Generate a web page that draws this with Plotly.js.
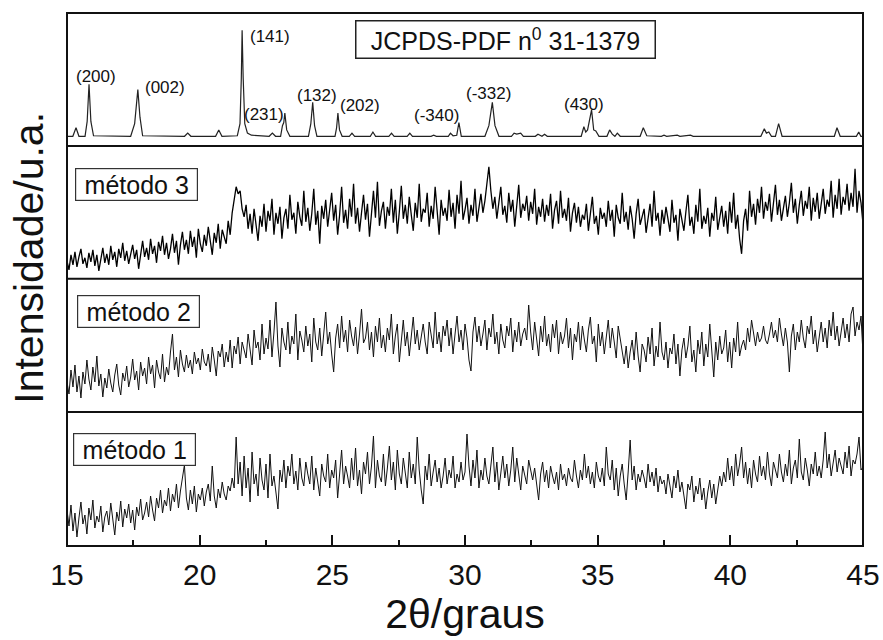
<!DOCTYPE html>
<html>
<head>
<meta charset="utf-8">
<script src="https://cdn.plot.ly/plotly-3.0.1.min.js"></script>
<style>html,body{margin:0;padding:0;background:#fff;}#chart{width:883px;height:640px;}</style>
</head>
<body>
<div id="chart"></div>
<script>
// ---------- DATA ----------
// Reference pattern JCPDS-PDF 31-1379 (vertices of the stick/profile line): 2θ and relative intensity
const refTwoTheta = [15.0,15.22,15.34,15.45,15.68,15.76,15.83,15.9,16.0,17.4,17.55,17.67,17.75,17.85,19.43,19.55,19.67,20.6,20.72,20.84,21.42,21.52,21.57,21.6,21.64,21.7,21.8,21.95,22.62,22.74,22.86,23.05,23.12,23.17,23.21,23.28,23.4,24.1,24.19,24.26,24.33,24.42,25.1,25.16,25.21,25.27,25.37,25.64,25.74,25.84,26.43,26.53,26.63,27.13,27.23,27.33,27.82,27.92,28.02,28.72,28.82,28.92,29.37,29.45,29.55,29.69,29.77,29.86,30.75,30.9,31.03,31.13,31.28,31.75,31.85,31.95,32.1,32.2,32.65,32.75,32.9,33.0,33.1,34.38,34.48,34.55,34.62,34.77,34.85,34.93,35.05,35.35,35.45,35.55,35.65,35.74,35.85,36.6,36.72,36.85,37.4,37.5,37.6,38.0,38.1,38.5,38.6,41.15,41.28,41.36,41.45,41.55,41.7,41.82,41.95,43.92,44.02,44.14,44.75,44.84,44.92,45.0];
const refIntensity = [0,0,8,0,0,14,49,14,0.5,0,12,44,18,0.5,0,3,0,0,6,0,0.5,12,55,100,55,12,3,1,0,3,0,0,10,13,22,6,0,0,12,32,10,0,0,8,22,6,0,0,3,0,0,4,0,0,3,0,0,3,0,0,1,0,0,3,0.5,1,13,0,0,10,32,10,0,0,3,2,3,0,0,2,0,2,0,0,9,4,6,25,6,5,0,0,6,2,0,3,0,0,8,0.5,0,1,0,1,0,1,0,0,7,3,4,0,0,12,0,0,8,0,0,4,0,0];

// Miller index labels of the reference pattern
const hklLabels = ['(200)','(002)','(141)','(231)','(132)','(202)','(-340)','(-332)','(430)'];
const hklTwoTheta = [16.1,18.7,22.66,22.41,24.42,26.04,28.94,30.9,34.47];
const hklLabelY = [56,46,94.6,20.1,38.7,29.2,19.8,39.9,30];

// Measured scans: uniform 2θ grid from 15° to 45°
const scanStart = 15;
const scanStep = 0.075;

const metodo3 = [
18,9,24,14,27,12,22,30,15,21,
11,26,17,29,13,24,8,22,31,16,
25,14,33,19,27,12,30,21,36,18,
28,15,24,34,20,29,10,26,38,22,
31,19,40,25,33,16,37,28,43,24,
36,20,30,45,26,38,14,34,47,29,
39,25,48,32,42,21,50,35,27,44,
33,52,38,24,46,36,55,30,49,41,
35,58,44,66,78,92,85,88,70,62,
74,50,65,45,70,56,38,63,52,75,
47,68,58,80,44,66,55,72,40,61,
70,50,84,59,66,45,77,62,53,88,
57,71,48,65,90,54,68,35,73,60,
79,52,67,86,58,74,44,64,92,56,
69,50,80,62,95,55,71,47,66,84,
59,75,42,70,88,61,97,53,68,77,
50,72,63,90,56,79,45,67,93,60,
74,55,82,64,48,76,61,95,57,70,
66,86,52,73,60,92,68,44,79,63,
71,58,89,62,76,50,84,65,98,59,
69,81,55,74,63,90,57,72,85,66,
78,95,112,88,70,82,60,76,92,64,
73,56,86,67,79,52,70,94,61,75,
68,83,58,77,65,90,54,72,62,80,
57,74,63,85,50,69,78,55,88,61,
70,58,81,47,66,76,56,72,52,64,
59,75,48,68,82,55,63,44,71,60,
66,52,78,58,69,42,74,61,55,86,
57,67,49,73,60,40,65,80,54,62,
70,46,61,75,52,88,58,66,43,69,
55,72,60,47,79,56,64,38,70,59,
48,67,84,53,62,45,74,57,90,50,
63,55,71,42,66,58,82,49,60,73,
52,68,45,77,56,86,50,64,40,25,
58,70,48,88,62,75,54,80,66,92,
60,77,68,85,57,73,94,64,79,58,
71,83,62,76,96,66,80,55,74,88,
63,78,70,92,58,81,67,86,60,75,
90,65,79,72,98,61,84,70,100,64,
82,74,95,68,86,72,110,66,88,76,
55];

const metodo2 = [
30,18,42,25,47,20,36,14,40,28,
52,33,22,45,30,56,26,38,15,34,
24,43,29,20,37,48,27,17,39,31,
46,25,35,53,32,41,22,50,36,44,
28,55,38,47,24,52,40,33,58,30,
45,37,60,78,42,55,35,62,48,40,
57,44,52,38,60,48,54,42,63,50,
46,58,40,65,52,36,61,55,68,45,
60,50,72,44,66,58,75,48,70,62,
54,78,60,47,82,64,70,52,88,58,
74,63,92,55,80,110,66,45,84,70,
62,90,58,76,68,98,52,81,72,60,
86,66,78,50,94,70,62,84,56,75,
100,68,80,58,40,74,88,64,96,70,
82,60,92,76,66,85,58,78,103,69,
74,90,62,80,55,86,70,94,64,77,
60,84,72,98,58,76,88,50,70,92,
66,80,56,74,95,68,82,62,78,88,
70,58,90,75,64,100,68,80,60,86,
76,92,66,84,58,78,96,70,82,62,
88,74,52,41,80,95,70,86,66,78,
92,62,84,75,98,68,80,58,88,72,
64,86,76,94,60,82,70,90,66,78,
84,72,107,80,62,90,74,56,86,70,
96,66,78,60,88,74,92,58,80,68,
76,94,64,84,52,78,70,90,62,86,
72,60,82,95,68,76,50,88,66,80,
58,74,92,64,84,70,54,86,74,62,
48,66,44,60,72,52,80,56,40,68,
62,50,75,58,84,46,66,55,90,60,
52,70,44,64,58,78,48,68,36,62,
74,54,66,86,50,62,40,72,58,80,
46,68,55,88,60,35,70,52,76,58,
64,82,50,70,44,74,60,90,56,66,
72,62,84,70,92,76,66,80,70,74,
86,72,68,78,90,74,82,70,94,78,
66,84,70,40,76,88,62,80,70,92,
74,64,86,78,96,68,82,60,76,90,
70,84,64,92,76,100,72,86,66,80,
94,74,88,70,98,105,76,90,82,96,
58];

const metodo1 = [
36,20,41,15,33,9,28,44,22,31,
12,38,26,46,18,30,24,40,14,29,
35,21,43,27,11,34,25,45,19,37,
28,42,23,36,16,39,30,47,26,33,
44,29,50,36,25,48,38,56,33,46,
40,58,35,52,44,62,38,55,66,81,
48,36,56,42,60,34,52,46,58,40,
54,62,45,80,50,38,57,48,64,52,
46,60,55,68,58,109,62,84,50,90,
58,78,44,94,62,72,50,88,66,56,
82,48,92,60,70,54,37,76,64,86,
58,80,70,92,62,75,56,88,68,60,
84,72,62,90,56,78,66,50,82,70,
64,92,58,76,68,86,48,74,96,62,
80,70,58,88,66,98,60,76,52,84,
72,94,62,80,110,58,86,70,64,92,
60,78,100,66,84,56,96,72,62,88,
74,58,94,68,82,62,109,76,56,42,
80,66,92,60,74,86,64,78,58,70,
88,62,76,68,90,58,72,64,84,66,
74,112,80,60,86,68,96,58,76,66,
88,70,62,80,99,64,84,56,74,90,
68,82,60,76,99,64,88,72,56,80,
70,62,86,74,66,78,60,46,72,84,
64,76,58,80,70,62,74,56,82,66,
72,60,78,68,64,86,70,58,76,66,
92,68,80,62,74,58,84,70,64,78,
60,99,72,66,86,56,78,50,70,82,
62,46,74,106,66,80,56,72,64,76,
68,58,82,64,74,60,78,54,70,62,
66,52,72,60,48,70,58,76,54,64,
50,37,62,56,70,44,60,52,68,46,
58,37,54,66,48,62,42,58,70,60,
74,64,88,66,80,60,92,70,82,99,
68,84,62,78,58,86,72,64,90,70,
80,66,94,72,60,84,76,68,92,74,
64,82,70,96,62,78,86,68,107,74,
66,88,76,60,82,72,94,70,80,68,
86,114,78,92,70,84,96,74,88,80,
72,94,78,100,70,86,82,92,109,76,
79];

const methodLabels = ['método 1','método 2','método 3'];
const xTickVals = [15,20,25,30,35,40,45];
const xTickText = ['15','20','25','30','35','40','45'];
const xTitle = '2θ/graus';
const yTitle = 'Intensidade/u.a.';
const refBoxText = 'JCPDS-PDF n<sup>0</sup> 31-1379';

// ---------- CHART ----------
const scanX = metodo1.map((_, i) => +(scanStart + i * scanStep).toFixed(3));
const FONT = 'Arial, "Liberation Sans", sans-serif';
const lineStyle = {color: '#111', width: 1};

const traces = [
  {x: scanX, y: metodo1, xaxis: 'x', yaxis: 'y', mode: 'lines', line: lineStyle, hoverinfo: 'x+y'},
  {x: scanX, y: metodo2, xaxis: 'x', yaxis: 'y2', mode: 'lines', line: lineStyle, hoverinfo: 'x+y'},
  {x: scanX, y: metodo3, xaxis: 'x', yaxis: 'y3', mode: 'lines', line: {color: '#000', width: 1.3}, hoverinfo: 'x+y'},
  {x: refTwoTheta, y: refIntensity, xaxis: 'x', yaxis: 'y4', mode: 'lines', line: {color: '#222', width: 1.2}, hoverinfo: 'x+y'}
];

const hidY = {visible: false, fixedrange: true, showgrid: false, zeroline: false, anchor: 'x'};

const annotations = [];
hklLabels.forEach((t, i) => annotations.push({
  text: t, x: hklTwoTheta[i], y: hklLabelY[i], xref: 'x', yref: 'y4',
  showarrow: false, xanchor: 'center', yanchor: 'middle',
  font: {family: FONT, size: 17, color: '#111'}
}));
annotations.push({
  text: refBoxText, x: 31.53, y: 91.5, xref: 'x', yref: 'y4', showarrow: false,
  xanchor: 'center', yanchor: 'middle', width: 296, height: 34, borderpad: 1,
  bordercolor: '#222', borderwidth: 1.5, bgcolor: '#fff',
  font: {family: FONT, size: 25, color: '#111'}
});
const methodPos = [{x: 17.55, y: 97, yref: 'y'}, {x: 17.69, y: 100.2, yref: 'y2'}, {x: 17.62, y: 94, yref: 'y3'}];
methodLabels.forEach((t, i) => annotations.push({
  text: t, x: methodPos[i].x, y: methodPos[i].y, xref: 'x', yref: methodPos[i].yref,
  showarrow: false, xanchor: 'center', yanchor: 'middle', width: 119, height: 29, borderpad: 1,
  bordercolor: '#333', borderwidth: 1.2, bgcolor: '#fff',
  font: {family: FONT, size: 25, color: '#111'}
}));
annotations.push({
  text: yTitle, xref: 'paper', yref: 'paper', x: -0.0478, y: 0.5407,
  xanchor: 'center', yanchor: 'middle', textangle: -90, showarrow: false,
  font: {family: FONT, size: 41, color: '#111'}
});

const shapes = [
  {type: 'rect', xref: 'paper', yref: 'paper', x0: 0, x1: 1, y0: 0, y1: 1, line: {color: '#111', width: 2}},
  {type: 'line', xref: 'paper', yref: 'paper', x0: 0, x1: 1, y0: 0.2514, y1: 0.2514, line: {color: '#111', width: 2}},
  {type: 'line', xref: 'paper', yref: 'paper', x0: 0, x1: 1, y0: 0.5013, y1: 0.5013, line: {color: '#111', width: 2}},
  {type: 'line', xref: 'paper', yref: 'paper', x0: 0, x1: 1, y0: 0.7505, y1: 0.7505, line: {color: '#111', width: 2}}
];

const layout = {
  width: 883, height: 640,
  margin: {l: 67, r: 20, t: 13, b: 94, pad: 0},
  paper_bgcolor: '#fff', plot_bgcolor: '#fff',
  showlegend: false,
  xaxis: {
    range: [15, 45], anchor: 'y', showgrid: false, zeroline: false, showline: false,
    tickvals: xTickVals, ticktext: xTickText, ticks: 'inside', ticklen: 11, tickwidth: 2, tickcolor: '#111',
    minor: {dtick: 2.5, tick0: 15, ticks: 'inside', ticklen: 6, tickwidth: 2, tickcolor: '#111', showgrid: false},
    ticklabelstandoff: 8,
    tickfont: {family: FONT, size: 30, color: '#111'},
    title: {text: xTitle, font: {family: FONT, size: 41, color: '#111'}, standoff: 8},
    automargin: false, fixedrange: true
  },
  yaxis: Object.assign({domain: [0, 0.2514], range: [0, 134]}, hidY),
  yaxis2: Object.assign({domain: [0.2514, 0.5013], range: [0, 133.2]}, hidY),
  yaxis3: Object.assign({domain: [0.5013, 0.7505], range: [0, 132.8]}, hidY),
  yaxis4: Object.assign({domain: [0.7505, 1], range: [-9.15, 116.3]}, hidY),
  annotations: annotations,
  shapes: shapes
};

Plotly.newPlot('chart', traces, layout, {staticPlot: true, displayModeBar: false});
</script>
</body>
</html>
